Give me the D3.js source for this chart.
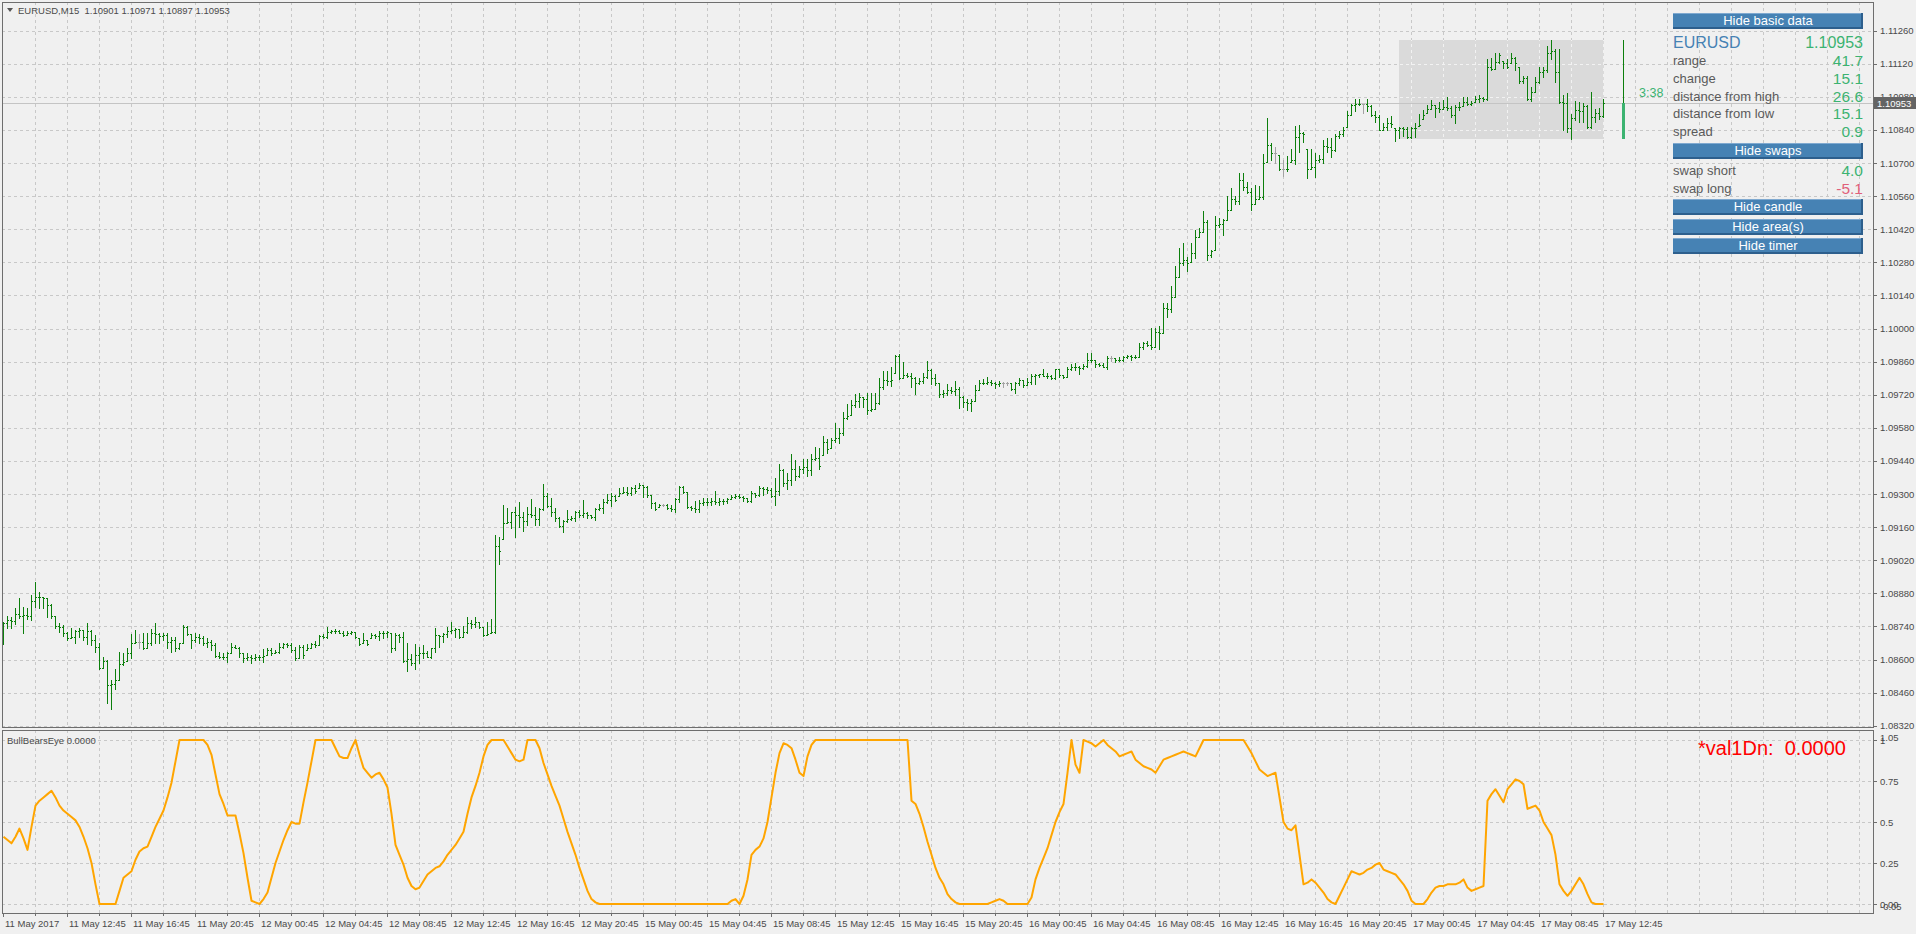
<!DOCTYPE html>
<html><head><meta charset="utf-8">
<script src="https://cdn.jsdelivr.net/npm/d3@7"></script>
<style>
html,body{margin:0;padding:0;background:#f0f0f0;overflow:hidden}
svg{display:block}
text{font-family:"Liberation Sans",Arial,sans-serif}
</style></head><body>
<svg id="chart" width="1916" height="934"></svg>
<script>
// ---------------- DATA ----------------
const symbol = "EURUSD,M15";
const headerOHLC = ["1.10901","1.10971","1.10897","1.10953"];
const firstOpen = 1.08700;
const high = [
1.08757,1.08784,1.08781,1.08819,1.08859,1.08824,1.08817,1.08873,1.08928,1.08884,
1.08863,1.08861,1.08835,1.08784,1.08753,1.08746,1.08718,1.08732,1.08725,1.08732,
1.08725,1.08753,1.08725,1.08704,1.08668,1.08612,1.08598,1.08513,1.08559,1.08633,
1.08626,1.08650,1.08708,1.08725,1.08707,1.08711,1.08711,1.08728,1.08753,1.08711,
1.08714,1.08711,1.08694,1.08694,1.08671,1.08746,1.08743,1.08708,1.08711,1.08707,
1.08700,1.08690,1.08683,1.08668,1.08633,1.08626,1.08633,1.08671,1.08661,1.08654,
1.08629,1.08629,1.08619,1.08622,1.08619,1.08643,1.08647,1.08647,1.08640,1.08671,
1.08671,1.08671,1.08671,1.08654,1.08661,1.08661,1.08666,1.08671,1.08678,1.08704,
1.08708,1.08739,1.08725,1.08728,1.08725,1.08721,1.08721,1.08721,1.08718,1.08692,
1.08711,1.08683,1.08711,1.08708,1.08722,1.08721,1.08721,1.08711,1.08711,1.08708,
1.08718,1.08668,1.08623,1.08666,1.08652,1.08661,1.08637,1.08647,1.08732,1.08704,
1.08711,1.08739,1.08760,1.08732,1.08728,1.08742,1.08778,1.08767,1.08778,1.08760,
1.08739,1.08760,1.08770,1.09127,1.09119,1.09253,1.09239,1.09225,1.09246,1.09265,
1.09225,1.09246,1.09277,1.09246,1.09239,1.09342,1.09306,1.09282,1.09239,1.09204,
1.09190,1.09232,1.09208,1.09228,1.09232,1.09275,1.09225,1.09211,1.09243,1.09258,
1.09277,1.09300,1.09306,1.09296,1.09324,1.09328,1.09328,1.09331,1.09338,1.09345,
1.09338,1.09334,1.09296,1.09267,1.09258,1.09258,1.09258,1.09253,1.09282,1.09334,
1.09334,1.09310,1.09249,1.09272,1.09275,1.09282,1.09282,1.09282,1.09314,1.09282,
1.09277,1.09282,1.09296,1.09300,1.09299,1.09291,1.09282,1.09314,1.09306,1.09334,
1.09331,1.09328,1.09324,1.09366,1.09427,1.09404,1.09387,1.09469,1.09444,1.09418,
1.09447,1.09447,1.09469,1.09500,1.09493,1.09545,1.09531,1.09539,1.09602,1.09578,
1.09645,1.09681,1.09698,1.09723,1.09726,1.09712,1.09726,1.09726,1.09729,1.09792,
1.09822,1.09822,1.09836,1.09888,1.09892,1.09860,1.09810,1.09813,1.09793,1.09789,
1.09810,1.09862,1.09831,1.09807,1.09771,1.09740,1.09764,1.09754,1.09778,1.09751,
1.09714,1.09700,1.09704,1.09761,1.09782,1.09785,1.09793,1.09782,1.09775,1.09778,
1.09775,1.09775,1.09768,1.09775,1.09789,1.09782,1.09789,1.09807,1.09807,1.09806,
1.09827,1.09810,1.09803,1.09828,1.09827,1.09803,1.09838,1.09850,1.09853,1.09841,
1.09848,1.09895,1.09895,1.09869,1.09853,1.09853,1.09884,1.09884,1.09876,1.09878,
1.09884,1.09888,1.09888,1.09888,1.09940,1.09944,1.09948,1.10001,1.10001,1.10010,
1.10109,1.10109,1.10180,1.10264,1.10339,1.10363,1.10304,1.10363,1.10419,1.10426,
1.10497,1.10459,1.10332,1.10476,1.10466,1.10462,1.10560,1.10593,1.10560,1.10656,
1.10656,1.10621,1.10593,1.10607,1.10603,1.10738,1.10889,1.10786,1.10769,1.10734,
1.10715,1.10729,1.10758,1.10856,1.10861,1.10832,1.10758,1.10758,1.10741,1.10734,
1.10797,1.10808,1.10808,1.10823,1.10837,1.10854,1.10921,1.10950,1.10973,1.10969,
1.10950,1.10969,1.10945,1.10921,1.10903,1.10868,1.10889,1.10899,1.10847,1.10851,
1.10854,1.10851,1.10854,1.10868,1.10906,1.10924,1.10945,1.10967,1.10945,1.10960,
1.10967,1.10978,1.10941,1.10945,1.10960,1.10978,1.10981,1.10964,1.10984,1.10988,
1.10978,1.11139,1.11143,1.11167,1.11167,1.11133,1.11139,1.11164,1.11147,1.11108,
1.11068,1.11068,1.11023,1.11065,1.11108,1.11108,1.11195,1.11219,1.11181,1.11181,
1.10988,1.10995,1.10907,1.10964,1.10960,1.10953,1.10945,1.11002,1.10927,1.10931,
1.10971];
const low = [
1.08664,1.08732,1.08732,1.08750,1.08774,1.08711,1.08770,1.08767,1.08824,1.08819,
1.08817,1.08778,1.08774,1.08735,1.08718,1.08700,1.08683,1.08690,1.08668,1.08697,
1.08683,1.08666,1.08661,1.08633,1.08559,1.08563,1.08415,1.08389,1.08474,1.08513,
1.08577,1.08594,1.08608,1.08668,1.08650,1.08645,1.08647,1.08661,1.08668,1.08671,
1.08683,1.08647,1.08633,1.08637,1.08643,1.08668,1.08704,1.08650,1.08676,1.08668,
1.08661,1.08654,1.08640,1.08612,1.08605,1.08601,1.08591,1.08626,1.08647,1.08612,
1.08591,1.08598,1.08584,1.08598,1.08598,1.08591,1.08619,1.08619,1.08626,1.08629,
1.08650,1.08654,1.08633,1.08598,1.08605,1.08605,1.08640,1.08647,1.08652,1.08661,
1.08690,1.08692,1.08711,1.08714,1.08711,1.08699,1.08704,1.08708,1.08690,1.08661,
1.08671,1.08661,1.08690,1.08690,1.08683,1.08690,1.08697,1.08633,1.08640,1.08676,
1.08591,1.08553,1.08577,1.08559,1.08587,1.08605,1.08612,1.08608,1.08633,1.08654,
1.08676,1.08697,1.08711,1.08697,1.08690,1.08697,1.08714,1.08732,1.08739,1.08732,
1.08699,1.08704,1.08714,1.08714,1.09002,1.09108,1.09179,1.09155,1.09119,1.09162,
1.09143,1.09169,1.09204,1.09169,1.09169,1.09232,1.09246,1.09208,1.09187,1.09159,
1.09140,1.09183,1.09190,1.09187,1.09204,1.09204,1.09200,1.09197,1.09190,1.09232,
1.09221,1.09263,1.09249,1.09272,1.09291,1.09303,1.09296,1.09298,1.09303,1.09324,
1.09289,1.09289,1.09239,1.09232,1.09246,1.09249,1.09235,1.09228,1.09225,1.09268,
1.09303,1.09243,1.09232,1.09225,1.09225,1.09253,1.09253,1.09253,1.09258,1.09253,
1.09258,1.09260,1.09277,1.09282,1.09284,1.09272,1.09268,1.09268,1.09289,1.09291,
1.09296,1.09306,1.09289,1.09253,1.09296,1.09334,1.09320,1.09338,1.09359,1.09373,
1.09390,1.09377,1.09380,1.09444,1.09408,1.09465,1.09472,1.09493,1.09521,1.09514,
1.09550,1.09616,1.09634,1.09669,1.09669,1.09669,1.09637,1.09652,1.09658,1.09681,
1.09743,1.09761,1.09757,1.09810,1.09785,1.09789,1.09796,1.09751,1.09723,1.09765,
1.09771,1.09789,1.09765,1.09761,1.09709,1.09712,1.09719,1.09729,1.09719,1.09662,
1.09669,1.09655,1.09652,1.09695,1.09740,1.09765,1.09765,1.09761,1.09747,1.09757,
1.09751,1.09761,1.09740,1.09726,1.09761,1.09754,1.09761,1.09765,1.09765,1.09796,
1.09799,1.09792,1.09786,1.09785,1.09796,1.09789,1.09793,1.09824,1.09824,1.09807,
1.09831,1.09836,1.09860,1.09838,1.09841,1.09836,1.09831,1.09864,1.09860,1.09864,
1.09864,1.09874,1.09869,1.09874,1.09881,1.09912,1.09926,1.09912,1.09923,1.09912,
1.09982,1.10050,1.10071,1.10135,1.10216,1.10268,1.10244,1.10283,1.10297,1.10388,
1.10410,1.10292,1.10304,1.10332,1.10431,1.10395,1.10459,1.10501,1.10529,1.10526,
1.10586,1.10574,1.10501,1.10529,1.10546,1.10550,1.10706,1.10715,1.10699,1.10670,
1.10645,1.10667,1.10706,1.10696,1.10748,1.10790,1.10635,1.10673,1.10642,1.10706,
1.10701,1.10748,1.10724,1.10752,1.10808,1.10814,1.10854,1.10903,1.10921,1.10945,
1.10913,1.10921,1.10899,1.10875,1.10840,1.10842,1.10840,1.10854,1.10795,1.10804,
1.10814,1.10804,1.10804,1.10809,1.10857,1.10885,1.10910,1.10927,1.10893,1.10917,
1.10927,1.10924,1.10896,1.10868,1.10924,1.10941,1.10945,1.10945,1.10960,1.10960,
1.10964,1.10967,1.11094,1.11096,1.11125,1.11101,1.11101,1.11125,1.11094,1.11040,
1.11037,1.10967,1.10964,1.11002,1.11040,1.11065,1.11086,1.11139,1.11044,1.10955,
1.10840,1.10833,1.10802,1.10882,1.10875,1.10875,1.10847,1.10847,1.10875,1.10885,
1.10897];
const close = [
1.08753,1.08767,1.08764,1.08793,1.08784,1.08788,1.08784,1.08849,1.08866,1.08863,
1.08859,1.08831,1.08784,1.08742,1.08739,1.08714,1.08690,1.08697,1.08722,1.08725,
1.08697,1.08722,1.08683,1.08652,1.08563,1.08594,1.08492,1.08496,1.08513,1.08581,
1.08591,1.08629,1.08671,1.08674,1.08674,1.08647,1.08671,1.08711,1.08708,1.08700,
1.08704,1.08676,1.08683,1.08647,1.08668,1.08739,1.08708,1.08683,1.08697,1.08690,
1.08671,1.08676,1.08661,1.08615,1.08612,1.08609,1.08629,1.08654,1.08650,1.08626,
1.08605,1.08609,1.08606,1.08612,1.08609,1.08615,1.08640,1.08626,1.08633,1.08654,
1.08666,1.08661,1.08640,1.08605,1.08654,1.08619,1.08647,1.08666,1.08661,1.08700,
1.08697,1.08718,1.08720,1.08722,1.08714,1.08704,1.08714,1.08716,1.08694,1.08666,
1.08683,1.08666,1.08704,1.08700,1.08711,1.08713,1.08718,1.08647,1.08704,1.08697,
1.08595,1.08601,1.08584,1.08619,1.08629,1.08626,1.08612,1.08647,1.08704,1.08701,
1.08708,1.08722,1.08725,1.08728,1.08697,1.08718,1.08756,1.08752,1.08758,1.08739,
1.08704,1.08708,1.08718,1.09080,1.09059,1.09179,1.09183,1.09222,1.09211,1.09204,
1.09187,1.09215,1.09211,1.09193,1.09235,1.09291,1.09249,1.09222,1.09197,1.09165,
1.09187,1.09193,1.09200,1.09225,1.09211,1.09218,1.09211,1.09204,1.09235,1.09239,
1.09268,1.09275,1.09291,1.09275,1.09306,1.09309,1.09303,1.09324,1.09314,1.09338,
1.09328,1.09296,1.09263,1.09235,1.09253,1.09253,1.09243,1.09235,1.09277,1.09331,
1.09310,1.09246,1.09243,1.09235,1.09263,1.09268,1.09265,1.09272,1.09268,1.09270,
1.09272,1.09277,1.09289,1.09291,1.09289,1.09282,1.09272,1.09303,1.09296,1.09324,
1.09320,1.09317,1.09291,1.09314,1.09401,1.09345,1.09359,1.09408,1.09376,1.09408,
1.09416,1.09401,1.09447,1.09451,1.09418,1.09521,1.09489,1.09528,1.09539,1.09559,
1.09620,1.09630,1.09676,1.09695,1.09709,1.09704,1.09655,1.09658,1.09683,1.09754,
1.09782,1.09779,1.09782,1.09884,1.09789,1.09803,1.09799,1.09789,1.09771,1.09779,
1.09793,1.09824,1.09789,1.09771,1.09723,1.09726,1.09740,1.09736,1.09743,1.09712,
1.09690,1.09683,1.09695,1.09740,1.09768,1.09771,1.09775,1.09768,1.09765,1.09768,
1.09768,1.09768,1.09743,1.09768,1.09782,1.09761,1.09775,1.09799,1.09803,1.09806,
1.09801,1.09799,1.09789,1.09827,1.09803,1.09796,1.09831,1.09838,1.09836,1.09833,
1.09841,1.09867,1.09869,1.09850,1.09845,1.09838,1.09874,1.09874,1.09867,1.09869,
1.09881,1.09884,1.09878,1.09881,1.09923,1.09940,1.09930,1.09923,1.09986,1.09982,
1.10085,1.10081,1.10135,1.10216,1.10278,1.10290,1.10278,1.10321,1.10388,1.10410,
1.10452,1.10311,1.10329,1.10438,1.10443,1.10459,1.10501,1.10546,1.10541,1.10628,
1.10597,1.10579,1.10526,1.10550,1.10555,1.10699,1.10776,1.10744,1.10744,1.10675,
1.10675,1.10677,1.10715,1.10811,1.10828,1.10823,1.10677,1.10682,1.10715,1.10719,
1.10772,1.10769,1.10755,1.10814,1.10825,1.10842,1.10903,1.10945,1.10952,1.10949,
1.10949,1.10941,1.10903,1.10896,1.10842,1.10851,1.10868,1.10865,1.10840,1.10847,
1.10844,1.10812,1.10847,1.10850,1.10861,1.10903,1.10927,1.10945,1.10931,1.10927,
1.10936,1.10931,1.10903,1.10936,1.10939,1.10960,1.10950,1.10953,1.10969,1.10974,
1.10969,1.11108,1.11096,1.11129,1.11157,1.11125,1.11108,1.11143,1.11125,1.11048,
1.11062,1.10969,1.11002,1.11044,1.11086,1.11094,1.11167,1.11175,1.11086,1.10960,
1.10953,1.10847,1.10889,1.10924,1.10921,1.10941,1.10851,1.10896,1.10913,1.10901,
1.10953];
// BullBearsEye indicator values
const bbe = [
.41,.39,.37,.41,.46,.40,.33,.47,.60,.63,
.65,.67,.69,.65,.60,.57,.55,.53,.51,.47,
.41,.34,.25,.12,0,0,0,0,0,.08,
.16,.18,.20,.27,.32,.34,.35,.41,.47,.52,
.57,.65,.74,.87,1,1,1,1,1,1,
1,.97,.91,.79,.67,.61,.54,.54,.54,.43,
.31,.16,.02,.01,0,.03,.07,.16,.25,.32,
.39,.45,.50,.49,.49,.62,.74,.87,1,1,
1,1,1,.95,.90,.89,.89,.95,1,.91,
.83,.80,.77,.79,.80,.76,.71,.55,.36,.30,
.24,.16,.11,.09,.10,.14,.18,.20,.22,.23,
.26,.30,.33,.36,.40,.44,.55,.65,.72,.80,
.90,.97,1,1,1,1,.96,.92,.88,.87,
.88,1,1,1,.95,.86,.79,.72,.66,.60,
.52,.44,.37,.30,.22,.15,.08,.03,.01,0,
0,0,0,0,0,0,0,0,0,0,
0,0,0,0,0,0,0,0,0,0,
0,0,0,0,0,0,0,0,0,0,
0,0,.02,.03,0,.05,.15,.30,.33,.35,
.40,.50,.65,.80,.92,.98,.97,.95,.88,.80,
.78,.90,.97,1,1,1,1,1,1,1,
1,1,1,1,1,1,1,1,1,1,
1,1,1,1,1,1,1,.63,.61,.55,
.47,.38,.30,.22,.16,.12,.06,.03,.01,0,
0,0,0,0,0,0,0,.01,.02,.03,
.02,0,0,0,0,0,0,.04,.15,.22,
.28,.34,.42,.50,.56,.61,.80,1,.85,.80,
1,.99,.98,.96,.98,1,.97,.95,.93,.90,
.91,.92,.93,.88,.86,.84,.83,.82,.80,.84,
.88,.89,.90,.91,.92,.93,.92,.91,.90,.95,
1,1,1,1,1,1,1,1,1,1,
1,.96,.92,.87,.82,.80,.78,.79,.80,.65,
.50,.46,.45,.48,.30,.12,.13,.15,.13,.10,
.07,.03,.01,0,.05,.10,.15,.20,.19,.18,
.19,.21,.22,.24,.25,.21,.20,.19,.18,.15,
.12,.08,.02,0,0,0,.03,.07,.10,.11,
.11,.12,.12,.12,.13,.15,.10,.08,.09,.10,
.11,.63,.67,.70,.66,.62,.70,.73,.76,.75,
.73,.58,.59,.60,.57,.50,.46,.42,.30,.12,
.08,.05,.08,.12,.16,.12,.06,.01,0,0,
0];
const xTickLabels = ["11 May 2017","11 May 12:45","11 May 16:45","11 May 20:45","12 May 00:45","12 May 04:45",
"12 May 08:45","12 May 12:45","12 May 16:45","12 May 20:45","15 May 00:45","15 May 04:45","15 May 08:45",
"15 May 12:45","15 May 16:45","15 May 20:45","16 May 00:45","16 May 04:45","16 May 08:45","16 May 12:45",
"16 May 16:45","16 May 20:45","17 May 00:45","17 May 04:45","17 May 08:45","17 May 12:45"];
const priceTicks = [1.08320,1.08460,1.08600,1.08740,1.08880,1.09020,1.09160,1.09300,1.09440,1.09580,1.09720,
1.09860,1.10000,1.10140,1.10280,1.10420,1.10560,1.10700,1.10840,1.10980,1.11120,1.11260];
const indGrid = [0,0.25,0.5,0.75,1];
const indLabels = [["1.05",1.05],["1",1],["0.75",0.75],["0.5",0.5],["0.25",0.25],["0.00",0],["-0.05",-0.05]];
const currentPrice = 1.10953;
// daily range box (17 May): first bar index, last bar index, high, low
const dayBox = {from:349, to:400, high:1.11219, low:1.10802};
const dayCandle = {open:1.10802, high:1.11219, low:1.10802, close:1.10953};
const timerText = "3:38";
const infoSymbol = "EURUSD", infoPrice = "1.10953";
const infoLabels = ["range","change","distance from high","distance from low","spread"];
const infoValues = ["41.7","15.1","26.6","15.1","0.9"];
const swapLabels = ["swap short","swap long"];
const swapValues = ["4.0","-5.1"];
const buttons = ["Hide basic data","Hide swaps","Hide candle","Hide area(s)","Hide timer"];
const indicatorName = "BullBearsEye 0.0000";
const signalText = "*val1Dn:  0.0000";

// ---------------- LAYOUT ----------------
const plotL = 2, plotR = 1873, mainT = 2, mainB = 727, indT = 730, indB = 913;
const BARS_PER_LABEL = 16, BARS_PER_GRID = 8;
const N = close.length;
const open = close.map((c,i)=> i===0 ? firstOpen : close[i-1]);

const svg = d3.select("#chart");
const x = d3.scaleLinear().domain([0, 400]).range([3.5, 1603.5]);
const y = d3.scaleLinear().domain([1.083145, 1.113814]).range([mainB, mainT]);
const yI = d3.scaleLinear().domain([-0.05, 1.05]).range([912.2, 731.8]);

const gridColor = "#c8c8c8", frameColor = "#6e6e6e", textColor = "#4a4a4a";
const barGreen = "#0c7f0c", barGray = "#a3a3a3", candleGreen = "#3cb371";

svg.append("rect").attr("width",1916).attr("height",934).attr("fill","#f0f0f0");

// grid
const gGrid = svg.append("g").attr("shape-rendering","crispEdges");
const vIdx = d3.range(BARS_PER_GRID, 470, BARS_PER_GRID).filter(i => x(i) < plotR);
function drawGrid(g, color){
  g.selectAll(null).data(vIdx).join("line")
    .attr("x1",d=>Math.floor(x(d))+0.5).attr("x2",d=>Math.floor(x(d))+0.5)
    .attr("y1",mainT).attr("y2",mainB).attr("stroke",color).attr("stroke-dasharray","3,3");
  g.selectAll(null).data(priceTicks).join("line")
    .attr("x1",plotL).attr("x2",plotR)
    .attr("y1",d=>Math.round(y(d))+0.5).attr("y2",d=>Math.round(y(d))+0.5)
    .attr("stroke",color).attr("stroke-dasharray","3,3");
}
drawGrid(gGrid, gridColor);
gGrid.selectAll(null).data(vIdx).join("line")
  .attr("x1",d=>Math.floor(x(d))+0.5).attr("x2",d=>Math.floor(x(d))+0.5)
  .attr("y1",indT).attr("y2",indB).attr("stroke",gridColor).attr("stroke-dasharray","3,3");
gGrid.selectAll(null).data(indGrid).join("line")
  .attr("x1",plotL).attr("x2",plotR)
  .attr("y1",d=>Math.round(yI(d))+0.5).attr("y2",d=>Math.round(yI(d))+0.5)
  .attr("stroke",gridColor).attr("stroke-dasharray","3,3");

// day range box
const bx0 = Math.floor(x(dayBox.from)), bx1 = Math.floor(x(dayBox.to))+1;
const by0 = Math.round(y(dayBox.high)), by1 = Math.round(y(dayBox.low));
svg.append("rect").attr("x",bx0).attr("y",by0).attr("width",bx1-bx0).attr("height",by1-by0)
  .attr("fill","#dadada");
svg.append("clipPath").attr("id","boxclip").append("rect")
  .attr("x",bx0).attr("y",by0).attr("width",bx1-bx0).attr("height",by1-by0);
drawGrid(svg.append("g").attr("clip-path","url(#boxclip)").attr("shape-rendering","crispEdges"), "#f2f2f2");

// current price line
svg.append("line").attr("x1",plotL).attr("x2",plotR)
  .attr("y1",Math.round(y(currentPrice))+0.5).attr("y2",Math.round(y(currentPrice))+0.5)
  .attr("stroke","#c4c4c4").attr("shape-rendering","crispEdges");

// OHLC bars
const bars = d3.range(N).map(i => ({i, o:Math.max(low[i],Math.min(high[i],open[i])), h:high[i], l:low[i], c:close[i]}));
const gBars = svg.append("g").attr("shape-rendering","crispEdges");
const bg = gBars.selectAll("g").data(bars).join("g")
  .attr("fill", d => d.o === d.c ? barGray : barGreen);
bg.append("rect").attr("x",d=>Math.floor(x(d.i))).attr("width",1)
  .attr("y",d=>Math.round(y(d.h))).attr("height",d=>Math.max(1,Math.round(y(d.l))-Math.round(y(d.h))+1));
bg.append("rect").attr("x",d=>Math.floor(x(d.i))-1).attr("width",1)
  .attr("y",d=>Math.round(y(d.o))).attr("height",1);
bg.append("rect").attr("x",d=>Math.floor(x(d.i))+1).attr("width",1)
  .attr("y",d=>Math.round(y(d.c))).attr("height",1);

// daily candle to the right of last bar
const cx = Math.floor(x(N - 1 + 5));
svg.append("rect").attr("x",cx).attr("width",1)
  .attr("y",Math.round(y(dayCandle.high))).attr("height",Math.round(y(dayCandle.close))-Math.round(y(dayCandle.high)))
  .attr("fill",barGreen).attr("shape-rendering","crispEdges");
svg.append("rect").attr("x",cx-1).attr("width",3)
  .attr("y",Math.round(y(dayCandle.close))).attr("height",Math.round(y(dayCandle.open))-Math.round(y(dayCandle.close)))
  .attr("fill",candleGreen).attr("shape-rendering","crispEdges");
svg.append("text").attr("x",Math.floor(x(N - 1 + 9))).attr("y",97).text(timerText)
  .attr("font-size",12.5).attr("fill",candleGreen);

// indicator line
svg.append("clipPath").attr("id","indclip").append("rect")
  .attr("x",plotL).attr("y",indT).attr("width",plotR-plotL).attr("height",indB-indT);
svg.append("path").datum(bbe).attr("clip-path","url(#indclip)")
  .attr("d", d3.line().x((d,i)=>x(i)).y(d=>yI(d)))
  .attr("fill","none").attr("stroke","#ffa500").attr("stroke-width",2).attr("stroke-linejoin","round");

// frames
const gF = svg.append("g").attr("shape-rendering","crispEdges").attr("fill","none").attr("stroke",frameColor);
gF.append("rect").attr("x",plotL+0.5).attr("y",mainT+0.5).attr("width",plotR-plotL).attr("height",mainB-mainT);
gF.append("rect").attr("x",plotL+0.5).attr("y",indT+0.5).attr("width",plotR-plotL).attr("height",indB-indT);

// right price axis
const gAx = svg.append("g");
gAx.selectAll(null).data(priceTicks).join("line").attr("shape-rendering","crispEdges")
  .attr("x1",plotR).attr("x2",plotR+4).attr("y1",d=>Math.round(y(d))+0.5).attr("y2",d=>Math.round(y(d))+0.5)
  .attr("stroke",frameColor);
gAx.selectAll(null).data(priceTicks).join("text")
  .attr("x",plotR+7).attr("y",d=>y(d)+3.5).text(d=>d.toFixed(5))
  .attr("font-size",9.5).attr("fill",textColor);
// current price tag
const cpy = Math.round(y(currentPrice));
svg.append("rect").attr("x",plotR+1).attr("y",cpy-6).attr("width",1916-plotR-1).attr("height",12).attr("fill","#646464");
svg.append("text").attr("x",plotR+4).attr("y",cpy+3.5).text(currentPrice.toFixed(5))
  .attr("font-size",9.5).attr("fill","#ffffff");

// indicator axis
gAx.selectAll(null).data(indGrid).join("line").attr("shape-rendering","crispEdges")
  .attr("x1",plotR).attr("x2",plotR+4).attr("y1",d=>Math.round(yI(d))+0.5).attr("y2",d=>Math.round(yI(d))+0.5)
  .attr("stroke",frameColor);
gAx.selectAll(null).data(indLabels).join("text")
  .attr("x",plotR+7)
  .attr("y",d=> Math.min(Math.max(yI(d[1]), indT+7), indB-7) + 3.5)
  .text(d=>d[0]).attr("font-size",9.5).attr("fill",textColor);

// bottom time axis
const tickIdx = d3.range(0, N, BARS_PER_GRID);
gAx.selectAll(null).data(tickIdx).join("line").attr("shape-rendering","crispEdges")
  .attr("x1",d=>Math.floor(x(d))+0.5).attr("x2",d=>Math.floor(x(d))+0.5)
  .attr("y1",indB).attr("y2",d=> d % BARS_PER_LABEL === 0 ? indB+4 : indB+3).attr("stroke",frameColor);
gAx.selectAll(null).data(xTickLabels).join("text")
  .attr("x",(d,k)=>Math.floor(x(k*BARS_PER_LABEL))+2).attr("y",926.5).text(d=>d)
  .attr("font-size",9.5).attr("fill",textColor);

// header texts
svg.append("path").attr("d","M7,8 L13,8 L10,12 Z").attr("fill","#555");
svg.append("text").attr("x",18).attr("y",14).text(symbol + "  " + headerOHLC.join(" "))
  .attr("font-size",9.5).attr("fill",textColor).attr("xml:space","preserve").style("white-space","pre");
svg.append("text").attr("x",7).attr("y",743.5).text(indicatorName)
  .attr("font-size",9.5).attr("fill",textColor);
svg.append("text").attr("x",1698).attr("y",755).text(signalText).style("white-space","pre")
  .attr("font-size",20).attr("fill","#ff0000");

// info panel
const pL = 1673, pR = 1863;
const btnY = [13, 143, 199, 219, 238];
function button(label, yTop){
  const g = svg.append("g").attr("shape-rendering","crispEdges");
  g.append("rect").attr("x",pL).attr("y",yTop).attr("width",pR-pL).attr("height",16).attr("fill","#2d5f8d");
  g.append("rect").attr("x",pL).attr("y",yTop).attr("width",pR-pL-2).attr("height",14).attr("fill","#4682b4");
  g.append("line").attr("x1",pL).attr("x2",pR-2).attr("y1",yTop+0.5).attr("y2",yTop+0.5).attr("stroke","#7fa9d0");
  g.append("text").attr("x",(pL+pR)/2).attr("y",yTop+12).attr("text-anchor","middle")
    .attr("font-size",13).attr("fill","#ffffff").attr("shape-rendering","auto").text(label);
}
buttons.forEach((b,k)=>button(b, btnY[k]));
svg.append("text").attr("x",pL).attr("y",48).text(infoSymbol).attr("font-size",16).attr("fill","#4682b4");
svg.append("text").attr("x",pR).attr("y",48).attr("text-anchor","end").text(infoPrice).attr("font-size",16).attr("fill",candleGreen);
const rowY = [60, 78, 96, 113.5, 131];
infoLabels.forEach((l,k)=>{
  svg.append("text").attr("x",pL).attr("y",rowY[k]+4.5).text(l).attr("font-size",13).attr("fill","#5a5a5a");
  svg.append("text").attr("x",pR).attr("y",rowY[k]+5.5).attr("text-anchor","end").text(infoValues[k])
    .attr("font-size",15.5).attr("fill",candleGreen);
});
const swapY = [170, 188];
swapLabels.forEach((l,k)=>{
  svg.append("text").attr("x",pL).attr("y",swapY[k]+4.5).text(l).attr("font-size",13).attr("fill","#5a5a5a");
  svg.append("text").attr("x",pR).attr("y",swapY[k]+5.5).attr("text-anchor","end").text(swapValues[k])
    .attr("font-size",15.5).attr("fill", swapValues[k].startsWith("-") ? "#e0607a" : candleGreen);
});
</script>
</body></html>
